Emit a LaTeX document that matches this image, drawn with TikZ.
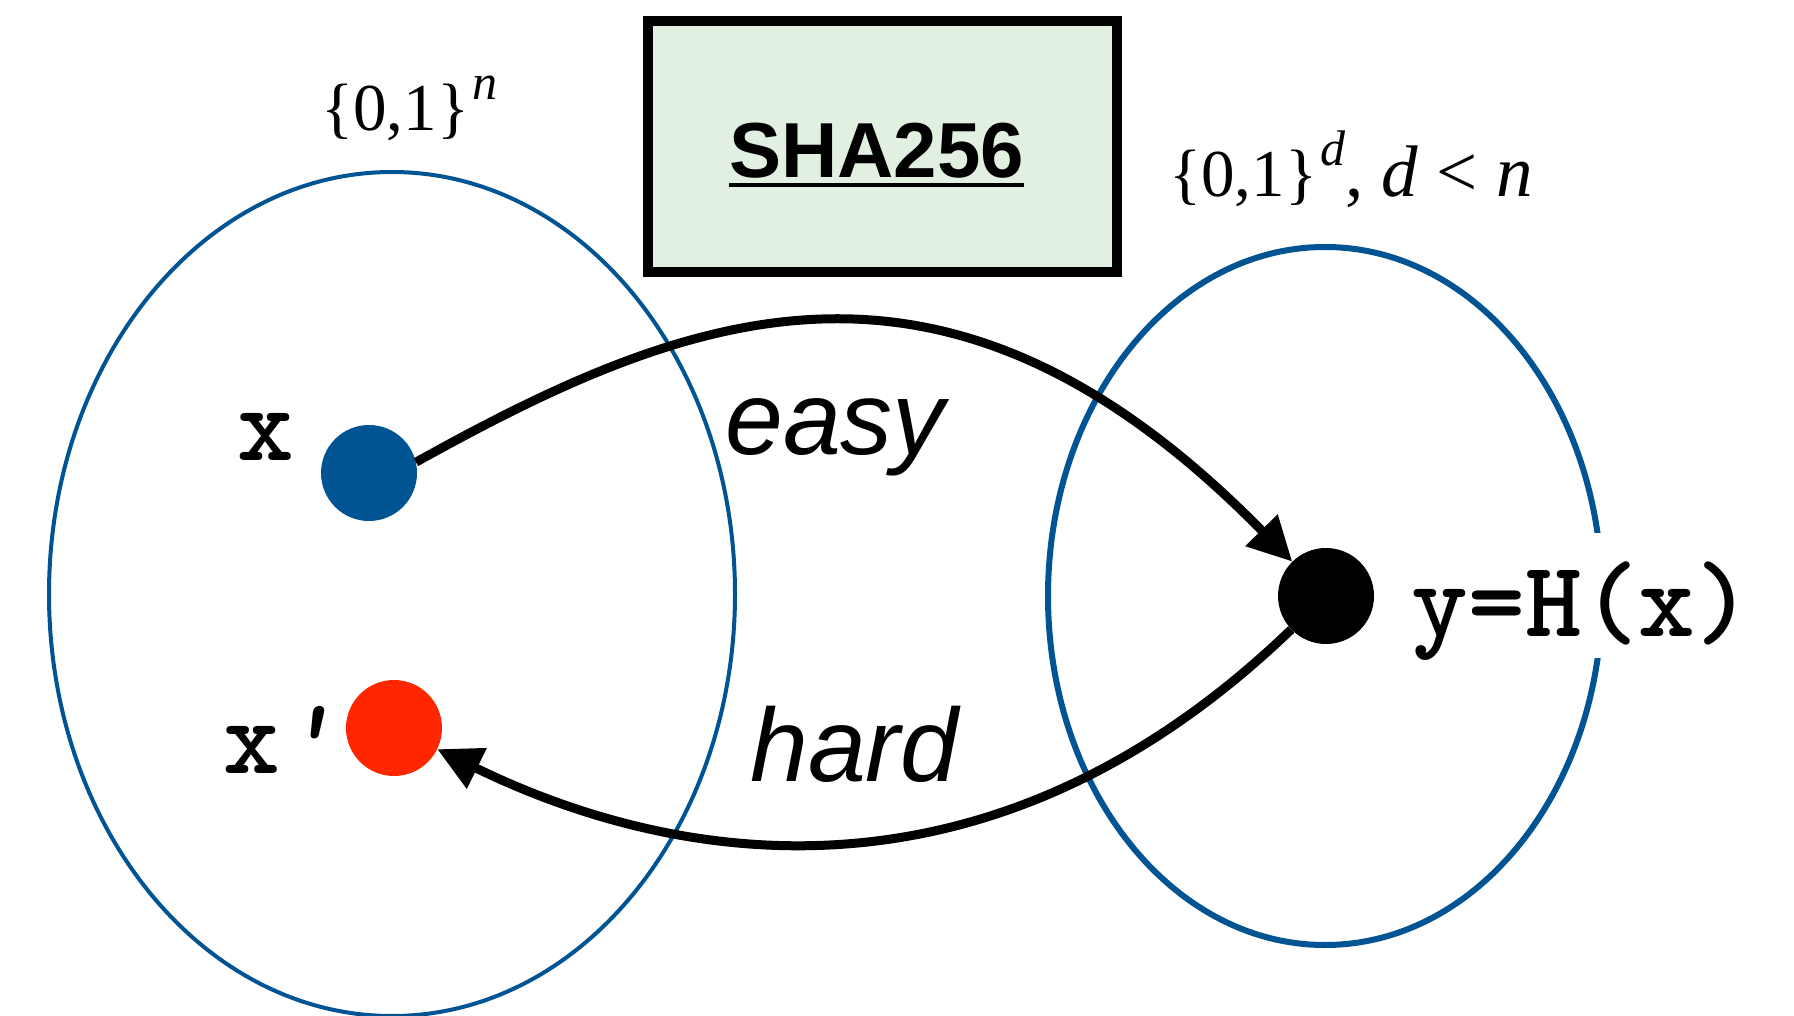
\documentclass[tikz,border=0pt]{standalone}
\usepackage{fontspec}
\usetikzlibrary{arrows.meta}
\newfontfamily\helv{Liberation Sans}
\newfontfamily\tms{Liberation Serif}
\definecolor{setblue}{HTML}{005493}
\definecolor{redpt}{HTML}{FF2600}
\definecolor{boxgreen}{HTML}{E2F0E2}
% text with a solid bar beneath it
\newcommand\ulbar[1]{\setbox0=\hbox{#1}\rlap{\rule[-9pt]{\wd0}{4pt}}\box0}
% superscript in the set labels
\newcommand\setexp[1]{\raisebox{31pt}{\fontsize{50pt}{50pt}\selectfont\itshape #1}}
% larger italic for the relation d < n
\newcommand\relpart[1]{{\fontsize{73pt}{73pt}\selectfont #1}}
\begin{document}
\begin{tikzpicture}[x=1pt,y=-1pt,
  dot/.style={circle, minimum size=96pt, inner sep=0pt},
  arr/.style={line width=9pt, -{Triangle[length=44pt,width=43pt]}},
  mono/.style={inner sep=0pt, font=\fontsize{108pt}{108pt}\selectfont\ttfamily\bfseries},
  sansit/.style={inner sep=0pt, font=\fontsize{104pt}{104pt}\selectfont\helv\itshape},
  serif/.style={inner sep=0pt, font=\fontsize{67pt}{67pt}\selectfont\tms}
]
\useasboundingbox[fill=white] (0,0) rectangle (1794,1016);

% the two sets
\draw[setblue, line width=4pt] (392,594) ellipse [x radius=343pt, y radius=422pt];
\draw[setblue, line width=6pt] (1325,596) ellipse [x radius=277pt, y radius=349pt];

% set labels
\node[serif, anchor=base west] (dom) at (321,131) {\{0,1\}\kern3pt\setexp{n}};
\node[serif, anchor=base west] (cod) at (1169,197) {\{0,1\}\kern3pt\setexp{d}\relpart{, \textit{d} < \textit{n}}};

% hash function box
\node[draw, line width=10pt, fill=boxgreen, minimum width=469pt, minimum height=251pt,
      inner sep=0pt, text height=78pt, text depth=15pt,
      font=\fontsize{78pt}{78pt}\selectfont\helv\bfseries] (hash) at (882.5,146.5) {\ulbar{SHA256}\kern12pt};

% points
\node[dot, fill=setblue] (x) at (369,473) {};
\node[dot, fill=redpt] (xp) at (394,728) {};
\node[dot, fill=black] (y) at (1326,596) {};

% point labels
\node[mono, anchor=base] (xl) at (266,460) {x};
\node[mono, anchor=base] (xpl) at (280,773) {x{\itshape\char"27}};
\node[mono, anchor=base, fill=white, text height=103pt, text depth=22pt] (yl) at (1582,636) {y=H(x)};

% mappings
\draw[arr] (x.13) .. controls (695,307) and (949,212) .. (y);
\draw[arr] (y) .. controls (979,930) and (658,857) .. (xp);

\node[sansit, anchor=base west] (easy) at (725,454) {easy};
\node[sansit, anchor=base west] (hard) at (750,781) {hard};
\end{tikzpicture}
\end{document}
